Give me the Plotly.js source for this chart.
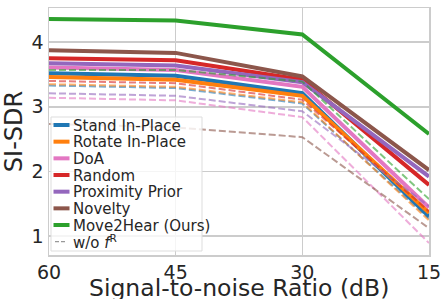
<!DOCTYPE html>
<html><head><meta charset="utf-8">
<script src="https://cdn.plot.ly/plotly-3.0.1.min.js"></script>
<style>html,body{margin:0;padding:0;background:#fff}#chart{width:443px;height:299px}</style>
</head><body><div id="chart"></div>
<script>
var snr = [60, 45, 30, 15];
var names = ["Stand In-Place", "Rotate In-Place", "DoA", "Random", "Proximity Prior", "Novelty", "Move2Hear (Ours)"];
var woLabel = "w/o <i>f</i><sup>R</sup>";
var xTitle = "Signal-to-noise Ratio (dB)";
var yTitle = "SI-SDR";
var colors = ["#1f77b4", "#ff7f0e", "#e377c2", "#d62728", "#9467bd", "#8c564b", "#2ca02c"];
var dashColors = ["rgba(31,119,180,0.6)", "rgba(255,127,14,0.6)", "rgba(227,119,194,0.6)", "rgba(214,39,40,0.6)", "rgba(148,103,189,0.6)", "rgba(140,86,75,0.6)", "rgba(44,160,44,0.6)"];

var standFull     = [3.52, 3.48, 3.21, 1.30];
var rotateFull    = [3.46, 3.42, 3.17, 1.36];
var doaFull       = [3.61, 3.57, 3.31, 1.44];
var randomFull    = [3.75, 3.72, 3.42, 1.79];
var proximityFull = [3.675, 3.64, 3.38, 1.92];
var noveltyFull   = [3.876, 3.835, 3.47, 2.02];
var move2hearFull = [4.36, 4.335, 4.12, 2.58];

var standWo     = [3.33, 3.29, 3.05, 1.27];
var rotateWo    = [3.35, 3.31, 3.07, 1.24];
var doaWo       = [3.14, 3.10, 2.84, 0.89];
var randomWo    = [3.40, 3.365, 3.11, 1.38];
var proximityWo = [3.21, 3.17, 2.93, 1.46];
var noveltyWo   = [2.735, 2.68, 2.53, 1.12];
var move2hearWo = [3.57, 3.57, 3.39, 1.57];

var full = [standFull, rotateFull, doaFull, randomFull, proximityFull, noveltyFull, move2hearFull];
var wo = [standWo, rotateWo, doaWo, randomWo, proximityWo, noveltyWo, move2hearWo];

var traces = [];
for (var i = 0; i < names.length; i++) {
  traces.push({x: snr, y: full[i], type: "scatter", mode: "lines", name: names[i],
    line: {color: colors[i], width: 4}, showlegend: false});
  traces.push({x: snr, y: wo[i], type: "scatter", mode: "lines", name: names[i] + " w/o",
    line: {color: dashColors[i], width: 2, dash: "7px,3px"}, showlegend: false});
}

// plot area geometry (pixels)
var W = 443, H = 299, L = 49, R = 14, T = 8, B = 44;
var pw = W - L - R, ph = H - T - B;
function px(x) { return (x - L) / pw; }
function py(y) { return (H - B - y) / ph; }

// custom legend (matplotlib-like, compact)
var shapes = [{type: "rect", xref: "paper", yref: "paper", layer: "above",
  x0: px(51), x1: px(202), y0: py(251), y1: py(117),
  fillcolor: "rgba(255,255,255,0.8)", line: {color: "#dddddd", width: 1}}];
var font = "DejaVu Sans, sans-serif";
var annotations = [{xref: "paper", yref: "paper", x: px(239), y: py(288), xanchor: "center", yanchor: "middle",
  showarrow: false, text: xTitle, font: {size: 23.5, family: font, color: "#262626"}}];
var rowH = 16.67, row0 = 125;
for (var k = 0; k < names.length + 1; k++) {
  var yy = row0 + k * rowH;
  var isWo = k === names.length;
  shapes.push({type: "line", xref: "paper", yref: "paper", layer: "above",
    x0: px(isWo ? 55 : 53.5), x1: px(isWo ? 67 : 69.5), y0: py(yy), y1: py(yy),
    line: isWo ? {color: "#999999", width: 1.2, dash: "4px,2px"} : {color: colors[k], width: 4}});
  annotations.push({xref: "paper", yref: "paper", x: px(71), y: py(yy + 0.5),
    xanchor: "left", yanchor: "middle", showarrow: false,
    text: isWo ? woLabel : names[k],
    font: {size: 15, family: font, color: "#262626"}});
}

var layout = {
  width: W, height: H,
  margin: {l: L, r: R, t: T, b: B},
  paper_bgcolor: "#fff", plot_bgcolor: "#fff",
  showlegend: false,
  font: {family: font, color: "#262626"},
  xaxis: {
    range: [60, 15], tickvals: snr, ticktext: snr.map(String),
    showgrid: true, gridcolor: "#cccccc", gridwidth: 1.5,
    showline: true, linecolor: "#cccccc", linewidth: 1.5, mirror: true,
    zeroline: false, ticks: "", tickfont: {size: 19, family: font, color: "#262626"}
  },
  yaxis: {
    range: [0.705, 4.53], tickvals: [1, 2, 3, 4],
    showgrid: true, gridcolor: "#cccccc", gridwidth: 1.5,
    showline: true, linecolor: "#cccccc", linewidth: 1.5, mirror: true,
    zeroline: false, ticks: "", tickfont: {size: 19, family: font, color: "#262626"},
    title: {text: yTitle, font: {size: 24, family: font, color: "#262626"}, standoff: 6}
  },
  shapes: shapes,
  annotations: annotations
};
Plotly.newPlot("chart", traces, layout, {staticPlot: true, displayModeBar: false});
</script></body></html>
